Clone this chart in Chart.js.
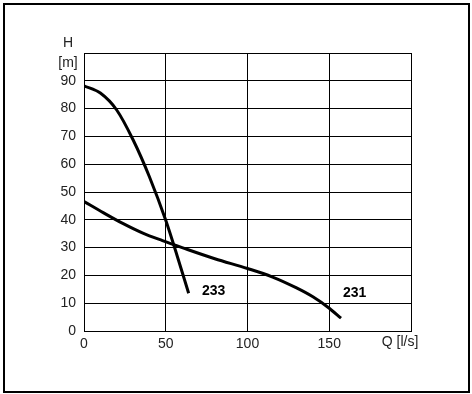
<!DOCTYPE html>
<html>
<head>
    <title>Pump curves 231 / 233</title>
    <script src="https://cdn.jsdelivr.net/npm/chart.js"></script>
    <style>
        body { margin: 0; background: #fff; }
        #wrap { position: relative; width: 472px; height: 394px; }
        #frame {
            position: absolute; left: 3px; top: 3px;
            width: 463px; height: 386px;
            border: 2px solid #000;
            pointer-events: none;
        }
    </style>
</head>
<body>
    <div id="wrap">
        <canvas id="pumpChart" width="472" height="394"></canvas>
        <div id="frame"></div>
    </div>
    <script>
        // Curve 233 (steep one), Q in l/s, H in m
        const q233 = [0, 10, 20, 30, 40, 50, 57, 64];
        const h233 = [88.2, 85.6, 79.5, 68.8, 55.5, 39.8, 27, 13.6];

        // Curve 231 (flat one)
        const q231 = [0, 12, 24, 36, 48, 60, 80, 100, 115, 130, 140, 150, 157.2];
        const h231 = [46.6, 42.5, 38.6, 35.2, 32.5, 30, 26, 22.5, 19.5, 15.5, 12.3, 8.2, 4.6];

        // where the curve names sit
        const curveNames = ['233', '231'];
        const nameQ = [79.3, 165.5];
        const nameH = [14.4, 13.7];

        const xTicks = [0, 50, 100, 150];
        const yTicks = [0, 10, 20, 30, 40, 50, 60, 70, 80, 90];

        function toPoints(qs, hs) {
            return qs.map((q, i) => ({ x: q, y: hs[i] }));
        }

        const FONT = 'Liberation Sans, Arial, sans-serif';

        // draws the axis titles and curve names
        const textPlugin = {
            id: 'textPlugin',
            afterDraw(chart) {
                const ctx = chart.ctx;
                const xs = chart.scales.x, ys = chart.scales.y;
                ctx.save();
                ctx.fillStyle = '#222';
                ctx.font = '14px ' + FONT;
                ctx.textAlign = 'center';
                ctx.textBaseline = 'middle';
                ctx.fillText('H', 68, 43);
                ctx.fillText('[m]', 68, 63);
                ctx.fillText('Q [l/s]', 400, 342);

                ctx.fillStyle = '#000';
                ctx.font = 'bold 14px ' + FONT;
                curveNames.forEach((n, i) => {
                    ctx.fillText(n, xs.getPixelForValue(nameQ[i]), ys.getPixelForValue(nameH[i]));
                });
                ctx.restore();
            }
        };

        const lineStyle = {
            borderColor: '#000',
            borderWidth: 3,
            pointRadius: 0,
            showLine: true,
            fill: false,
            cubicInterpolationMode: 'monotone'
        };

        new Chart(document.getElementById('pumpChart'), {
            type: 'scatter',
            data: {
                datasets: [
                    Object.assign({ label: '233', data: toPoints(q233, h233) }, lineStyle),
                    Object.assign({ label: '231', data: toPoints(q231, h231) }, lineStyle)
                ]
            },
            options: {
                responsive: false,
                animation: false,
                layout: { padding: { left: 0, top: 53, right: 61, bottom: 0 } },
                plugins: {
                    legend: { display: false },
                    tooltip: { enabled: false }
                },
                scales: {
                    x: {
                        type: 'linear',
                        min: 0, max: 200,
                        afterFit: s => { s.height = 63; },
                        afterBuildTicks: s => { s.ticks = xTicks.concat([200]).map(v => ({ value: v })); },
                        grid: { color: '#000', lineWidth: 1, drawTicks: false },
                        border: { color: '#000', width: 1 },
                        ticks: {
                            padding: 5,
                            color: '#222',
                            font: { family: FONT, size: 14 },
                            callback: v => (xTicks.includes(v) ? String(v) : '')
                        }
                    },
                    y: {
                        type: 'linear',
                        min: 0, max: 100,
                        afterFit: s => { s.width = 84; },
                        afterBuildTicks: s => { s.ticks = yTicks.concat([100]).map(v => ({ value: v })); },
                        grid: { color: '#000', lineWidth: 1, drawTicks: false },
                        border: { color: '#000', width: 1 },
                        ticks: {
                            padding: 8,
                            color: '#222',
                            font: { family: FONT, size: 14 },
                            callback: v => (yTicks.includes(v) ? String(v) : '')
                        }
                    }
                }
            },
            plugins: [textPlugin]
        });
    </script>
</body>
</html>
